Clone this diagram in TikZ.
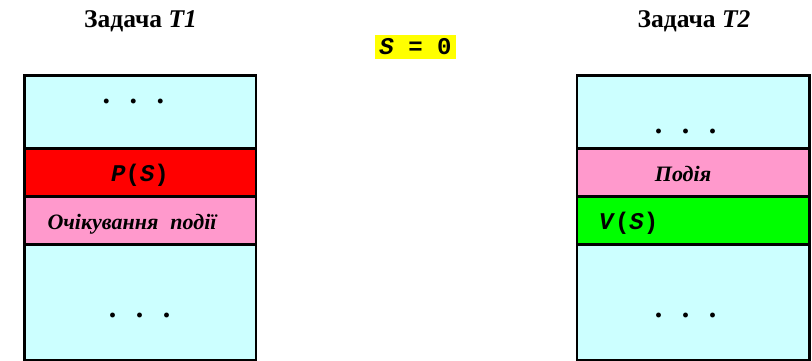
\documentclass[tikz,border=0pt]{standalone}
\usepackage{fontspec}
\setmainfont{Liberation Serif}
\newfontfamily\monof{Liberation Mono}
\definecolor{lcyan}{HTML}{CCFFFF}
\definecolor{lpink}{HTML}{FF99CC}
\definecolor{lred}{HTML}{FF0000}
\definecolor{lgreen}{HTML}{00FF00}
\definecolor{lyellow}{HTML}{FFFF00}
\begin{document}
\begin{tikzpicture}[x=1pt,y=-1pt,
  band/.style={draw=black, line width=2.8pt, anchor=north west, inner sep=0pt, outer sep=0pt, minimum height=48pt},
  title/.style={font=\fontsize{25.5}{30}\selectfont\bfseries, inner sep=0pt, anchor=base},
  lbl/.style={font=\fontsize{22}{26}\selectfont\bfseries\itshape, inner sep=0pt, anchor=base},
  code/.style={font=\fontsize{24}{28}\selectfont\monof\bfseries, inner sep=0pt, anchor=base},
  dots/.style={font=\fontsize{30}{34}\selectfont\bfseries, inner sep=0pt, anchor=base}
]
\useasboundingbox (0,0) rectangle (812,361);
\clip (0,0) rectangle (812,361);
% titles
\node[title] (t1) at (140.5,27.5) {Задача \textit{T1}};
\node[title] (t2) at (694,27.5) {Задача \textit{T2}};
% S = 0
\node[fill=lyellow, inner sep=0pt, minimum width=81pt, minimum height=24pt] (s0) at (415.5,47) {};
\node[code] (s0t) at (415.5,55) {\textit{S} = 0};
% left column
\node[band, fill=lcyan, minimum width=231.3pt, minimum height=73pt] (l1) at (24.6,75.3) {};
\node[band, fill=lred, minimum width=231.3pt] (l2) at (24.6,148.3) {};
\node[band, fill=lpink, minimum width=231.3pt] (l3) at (24.6,196.3) {};
\node[band, fill=lcyan, minimum width=231.3pt, minimum height=116pt] (l4) at (24.6,244.3) {};
% right column
\node[band, fill=lcyan, minimum width=232.5pt, minimum height=73pt] (r1) at (577,75.3) {};
\node[band, fill=lpink, minimum width=232.5pt] (r2) at (577,148.3) {};
\node[band, fill=lgreen, minimum width=232.5pt] (r3) at (577,196.3) {};
\node[band, fill=lcyan, minimum width=232.5pt, minimum height=116pt] (r4) at (577,244.3) {};
% texts
\node[dots] (ld1) at (133.3,103) {.\hspace{19.5pt}.\hspace{19.5pt}.};
\node[code] (ps) at (140,181) {\textit{P}(\textit{S})};
\node[lbl] (oc) at (132,229) {Очікування\hspace{12pt}події};
\node[dots] (ld2) at (139.5,317) {.\hspace{19.5pt}.\hspace{19.5pt}.};
\node[dots] (rd1) at (685.5,133) {.\hspace{19.5pt}.\hspace{19.5pt}.};
\node[lbl] (pd) at (683,181) {Подія};
\node[code] (vs) at (628.5,229) {\textit{V}(\textit{S})};
\node[dots] (rd2) at (685.5,317) {.\hspace{19.5pt}.\hspace{19.5pt}.};
\end{tikzpicture}
\end{document}
